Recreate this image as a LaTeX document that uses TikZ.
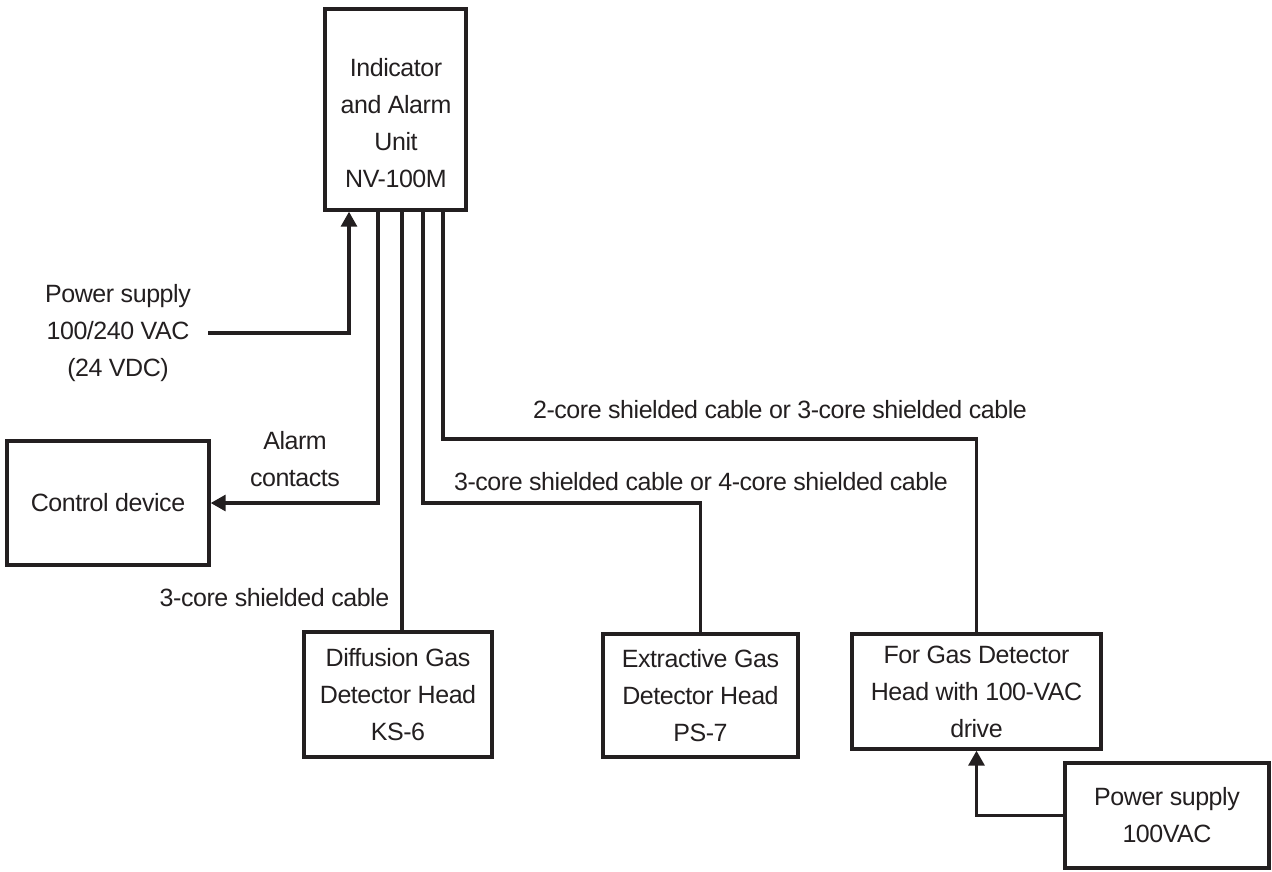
\documentclass[tikz,border=0pt]{standalone}
\usepackage{fontspec}
\setmainfont{Liberation Sans}[LetterSpace=-1.8]
\usetikzlibrary{arrows.meta,calc}
\definecolor{ink}{RGB}{35,31,32}
\begin{document}
\begin{tikzpicture}[x=1pt,y=-1pt,
  every node/.style={font=\fontsize{25}{37}\selectfont, text=ink},
  box/.style={draw=ink, line width=3.4pt, rectangle, inner sep=0pt, align=center},
  txt/.style={align=center, inner sep=0pt},
  wire/.style={draw=ink, line width=3.2pt},
  arr/.style={wire, -{Triangle[width=16pt,length=15pt]}}]
\useasboundingbox (0,0) rectangle (1272,871);

% boxes
\node[box, minimum width=141pt, minimum height=201pt] (main) at (395.5,109.5) {};
\node[txt] (mainT) at (396,123) {Indicator\\and Alarm\\Unit\\NV-100M};
\node[box, minimum width=202pt, minimum height=124pt] (ctrl) at (108,503) {Control device};
\node[box, minimum width=188pt, minimum height=125pt] (ks) at (398,694.5) {Diffusion Gas\\Detector Head\\KS-6};
\node[box, minimum width=195pt, minimum height=123pt] (ps) at (700.5,695.5) {Extractive Gas\\Detector Head\\PS-7};
\node[box, minimum width=249pt, minimum height=115pt] (gas) at (976.5,691.5) {For Gas Detector\\Head with 100-VAC\\drive};
\node[box, minimum width=204pt, minimum height=105pt] (pw2) at (1167,815.5) {Power supply\\100VAC};

% labels
\node[txt, inner xsep=17.5pt] (pw1) at (118,333) {Power supply\\100/240 VAC\\(24 VDC)};
\node[txt] (lAl) at (295,459) {Alarm\\contacts};
\node[txt] (l1) at (780,410) {2-core shielded cable or 3-core shielded cable};
\node[txt] (l2) at (701,482) {3-core shielded cable or 4-core shielded cable};
\node[txt] (l3) at (274.5,598) {3-core shielded cable};

% bend points
\coordinate (k1) at (700.5,503);
\coordinate (k2) at (976.5,439);

% connectors
\draw[arr] (pw1.east) -| ([xshift=-46.5pt]main.south);
\draw[arr] ([xshift=-17.5pt]main.south) |- (ctrl.east);
\draw[wire] ([xshift=6.5pt]main.south) -- ([xshift=6.5pt]main.south |- ks.north);
\draw[wire] ([xshift=27.5pt]main.south) |- (k1) -- (ps.north);
\draw[wire] ([xshift=47.5pt]main.south) |- (k2) -- (gas.north);
\draw[arr] (pw2.west) -| (gas.south);
\end{tikzpicture}
\end{document}
